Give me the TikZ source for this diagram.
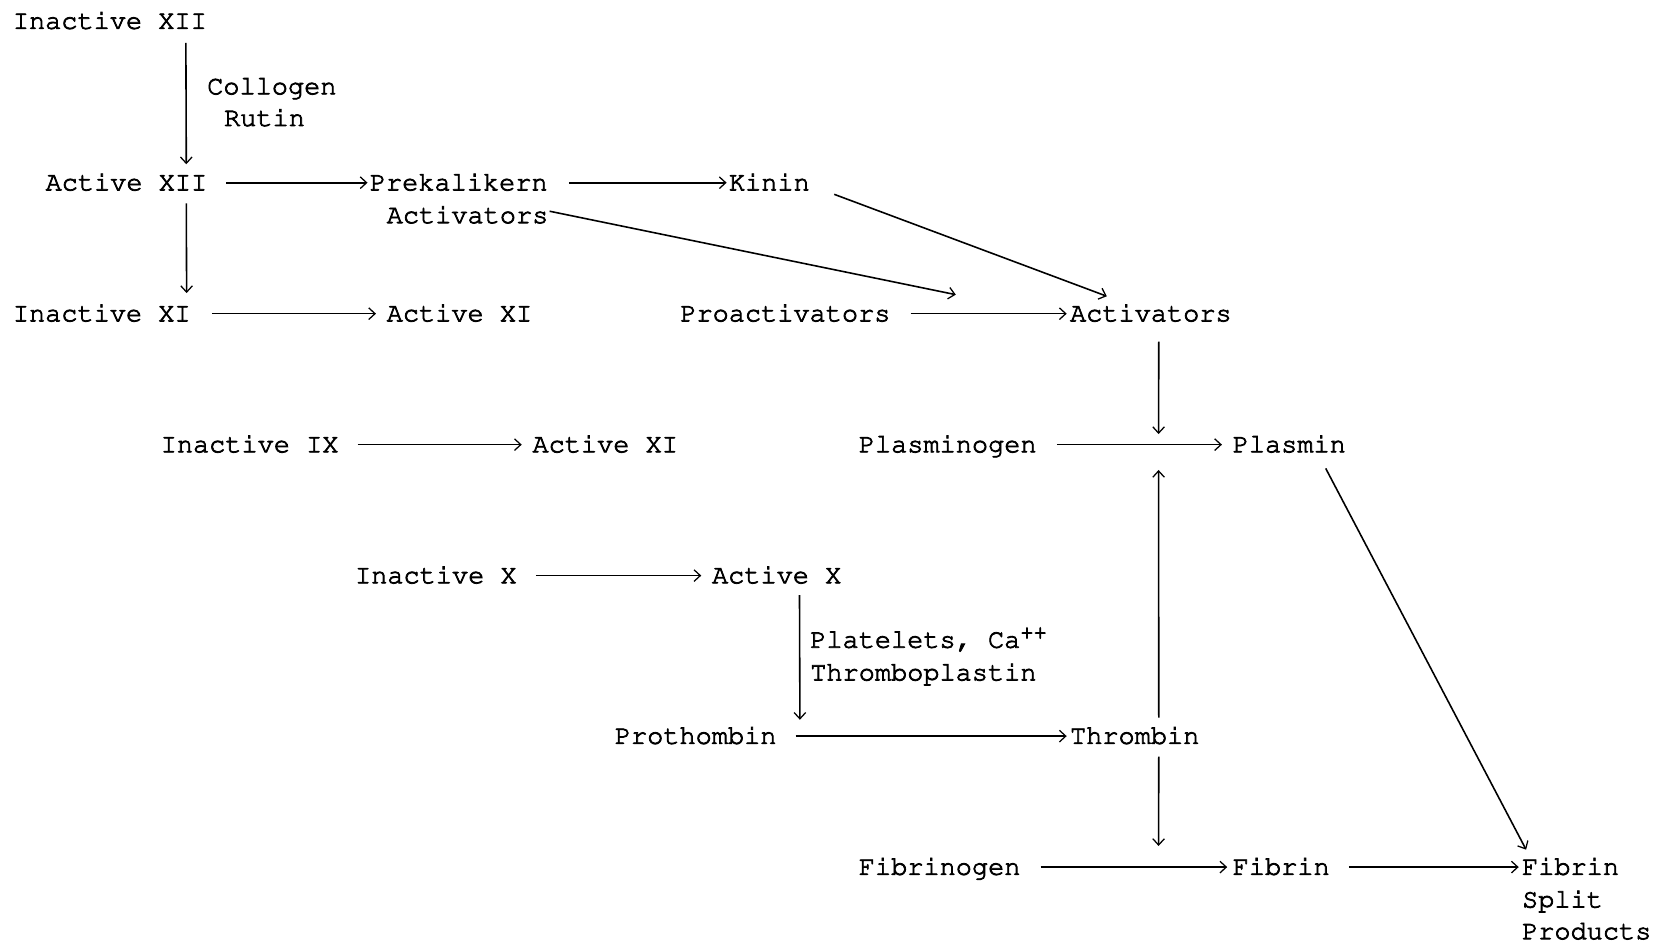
\documentclass[tikz,border=0pt]{standalone}
\usepackage[T1]{fontenc}
\usepackage{courier}
\usetikzlibrary{arrows.meta}
\newcommand\twfont{\fontfamily{pcr}\fontsize{25.5}{31}\selectfont}
\tikzset{
  lbl/.style={font=\twfont, inner sep=0pt, text height=14.6pt, text depth=0pt, anchor=west,
    execute at begin node={\special{pdf:literal 2 Tr 0.7 w}},
    execute at end node={\special{pdf:literal 0 Tr}}},
  arr/.style={line width=1.5pt, -{Straight Barb[length=6pt,width=11pt,line width=1.2pt]}},
}
\begin{document}
\begin{tikzpicture}[x=1pt,y=-1pt]
\useasboundingbox (0,0) rectangle (1568,894);
% nodes
\node[lbl] (ixii)  at (12,20)   {Inactive XII};
\node[lbl] (coll)  at (196,82)  {Collogen};
\node[lbl] (rut)   at (212,112) {Rutin};
\node[lbl] (axii)  at (43,173)  {Active XII};
\node[lbl] (prek)  at (350,173) {Prekalikern};
\node[lbl] (preka) at (366,204) {Activators};
\node[lbl] (kinin) at (690,173) {Kinin};
\node[lbl] (ixi)   at (12,297)  {Inactive XI};
\node[lbl] (axi)   at (366,297) {Active XI};
\node[lbl] (proact) at (644,297) {Proactivators};
\node[lbl] (act)   at (1013,297) {Activators};
\node[lbl] (iix)   at (152,421) {Inactive IX};
\node[lbl] (axi2)  at (504,421) {Active XI};
\node[lbl] (plgn)  at (813,421) {Plasminogen};
\node[lbl] (plsm)  at (1167,421) {Plasmin};
\node[lbl] (ix)    at (336,545) {Inactive X};
\node[lbl] (ax)    at (674,545) {Active X};
\node[lbl] (plat)  at (767,606) {Platelets, Ca\raisebox{8pt}{\fontsize{21}{21}\selectfont ++}};
\node[lbl] (thr)   at (767,637) {Thromboplastin};
\node[lbl] (proth) at (582,697) {Prothombin};
\node[lbl] (thrm)  at (1013,697) {Thrombin};
\node[lbl] (fbgn)  at (813,821) {Fibrinogen};
\node[lbl] (fib)   at (1167,821) {Fibrin};
\node[lbl] (fsp)   at (1441,821) {Fibrin};
\node[lbl] (fspb)  at (1441,852) {Split};
\node[lbl] (fspc)  at (1441,882) {Products};
% free ends on other arrows
\coordinate (c1) at (905,279);
\coordinate (c2) at (1097,411);
\coordinate (c3) at (1097,445);
\coordinate (c4) at (1097,801);
% connectors
\draw[arr] ([xshift=-20pt,yshift=-13pt]ixii.south east) -- ([xshift=-20pt,yshift=10pt]axii.north east);
\draw[arr,shorten <=18pt,shorten >=2pt] (axii.east) -- (prek.west);
\draw[arr,shorten <=20pt,shorten >=2pt] (prek.east) -- (kinin.west);
\draw[arr] ([xshift=23pt,yshift=-11pt]kinin.east) -- ([xshift=35pt,yshift=9pt]act.north west);
\draw[arr] ([xshift=1pt,yshift=4pt]preka.east) -- (c1);
\draw[arr] ([xshift=-20pt,yshift=-12pt]axii.south east) -- ([xshift=-4pt,yshift=12pt]ixi.north east);
\draw[arr,shorten <=20pt,shorten >=10pt] (ixi.east) -- (axi.west);
\draw[arr,shorten <=19pt,shorten >=3pt] (proact.east) -- (act.west);
\draw[arr] ([xshift=7.5pt,yshift=-19pt]act.south) -- (c2);
\draw[arr,shorten <=18pt,shorten >=10pt] (iix.east) -- (axi2.west);
\draw[arr,shorten <=19pt,shorten >=10pt] (plgn.east) -- (plsm.west);
\draw[arr] ([xshift=22.8pt,yshift=10pt]thrm.north) -- (c3);
\draw[arr] ([xshift=34.5pt,yshift=-15pt]plsm.south) -- ([xshift=4pt,yshift=9pt]fsp.north west);
\draw[arr,shorten <=18pt,shorten >=10pt] (ix.east) -- (ax.west);
\draw[arr] ([xshift=83pt,yshift=-11pt]ax.south west) -- ([xshift=22pt,yshift=8pt]proth.north east);
\draw[arr,shorten <=18pt,shorten >=3pt] (proth.east) -- (thrm.west);
\draw[arr] ([xshift=22.8pt,yshift=-12pt]thrm.south) -- (c4);
\draw[arr,shorten <=19pt,shorten >=5pt] (fbgn.east) -- (fib.west);
\draw[arr,shorten <=18pt,shorten >=3pt] (fib.east) -- (fsp.west);
\end{tikzpicture}
\end{document}
